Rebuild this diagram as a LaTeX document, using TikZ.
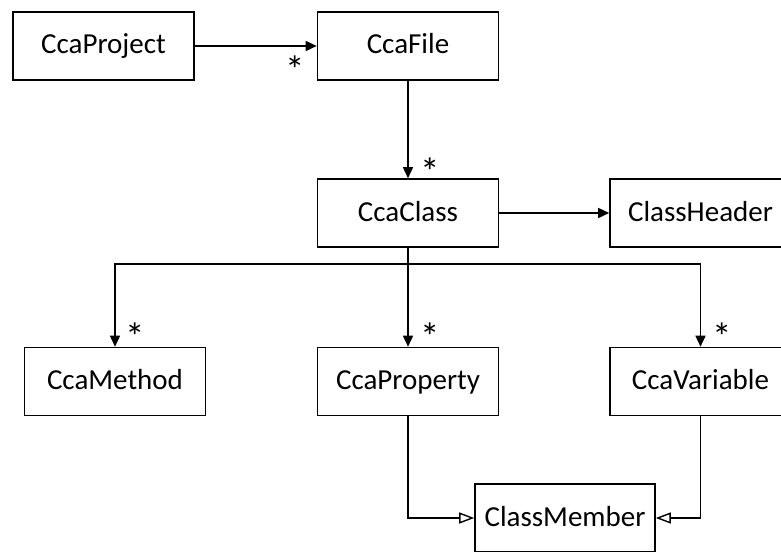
\documentclass[tikz,border=0pt]{standalone}
\usepackage{fontspec}
\setmainfont{Carlito}
\usetikzlibrary{arrows.meta}

\tikzset{
  cls/.style={draw=black, line width=1.6pt, fill=white, rectangle,
    minimum width=181pt, minimum height=68pt, inner sep=0pt,
    text height=20pt, text depth=4pt,
    font=\fontsize{29}{33}\selectfont},
  link/.style={draw=black, line width=1.6pt},
  assoc/.style={link, -{Triangle[length=11pt,width=10pt]}},
  gen/.style={link, -{Triangle[open,length=15pt,width=11pt,fill=white,line width=1.4pt]}},
  mult/.style={inner sep=0pt, font=\fontsize{39}{42}\selectfont}
}

\begin{document}
\begin{tikzpicture}[x=1pt,y=-1pt]
  \clip (0,0) rectangle (781,551);
  \fill[white] (0,0) rectangle (781,551);

  % classes
  \node[cls] (prj) at (103.5,46)  {CcaProject};
  \node[cls] (file) at (408,46)   {CcaFile};
  \node[cls] (ccls) at (408,213)  {CcaClass};
  \node[cls] (hdr) at (700.5,213) {ClassHeader};
  \node[cls] (mth) at (115,381.5) {CcaMethod};
  \node[cls] (prp) at (408,381.5) {CcaProperty};
  \node[cls] (var) at (700.5,381.5) {CcaVariable};
  \node[cls, minimum width=180pt] (mem) at (565,518) {ClassMember};

  % composition links
  \draw[assoc] (prj.east) -- (file.west);
  \draw[assoc] (file.south) -- (ccls.north);
  \draw[assoc] (ccls.east) -- (hdr.west);

  \coordinate (hub) at (408,264);
  \draw[link] (ccls.south) -- (hub);
  \draw[assoc] (hub) -| (mth.north);
  \draw[assoc] (hub) -- (prp.north);
  \draw[assoc] (hub) -| (var.north);

  % inheritance
  \draw[gen] (prp.south) |- (mem.west);
  \draw[gen] (var.south) |- (mem.east);

  % multiplicities
  \node[mult] (m1) at (295,70)  {*};
  \node[mult] (m2) at (430,172) {*};
  \node[mult] (m3) at (135,337) {*};
  \node[mult] (m4) at (430,337) {*};
  \node[mult] (m5) at (722,337) {*};
\end{tikzpicture}
\end{document}
